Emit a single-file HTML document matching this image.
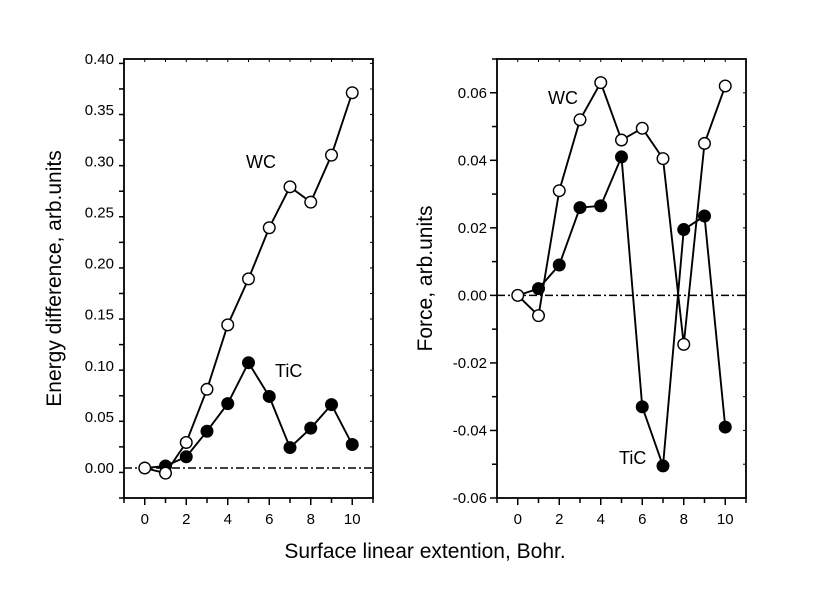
<!DOCTYPE html>
<html><head><meta charset="utf-8"><style>
body{margin:0;background:#fff;font-family:"Liberation Sans",Arial,sans-serif}
svg text{font-family:"Liberation Sans",Arial,sans-serif;fill:#000}
</style></head><body>
<svg id="c" width="829" height="586" xmlns="http://www.w3.org/2000/svg"></svg>
<script>
const xs=[0,1,2,3,4,5,6,7,8,9,10];
const leftWC=[0,-0.005,0.025,0.077,0.14,0.185,0.235,0.275,0.26,0.306,0.367];
const leftTiC=[0,0.002,0.011,0.036,0.063,0.103,0.07,0.02,0.039,0.062,0.023];
const rightWC=[0,-0.006,0.031,0.052,0.063,0.046,0.0495,0.0405,-0.0145,0.045,0.062];
const rightTiC=[0,0.002,0.009,0.026,0.0265,0.041,-0.033,-0.0505,0.0195,0.0235,-0.039];
const xTickLabels=[0,2,4,6,8,10];
const leftYTicks=[0,0.05,0.1,0.15,0.2,0.25,0.3,0.35,0.4];
const rightYTicks=[-0.06,-0.04,-0.02,0,0.02,0.04,0.06];
const NS="http://www.w3.org/2000/svg";
const svg=document.getElementById('c');
function mk(t,a,p){const e=document.createElementNS(NS,t);for(const k in a)e.setAttribute(k,a[k]);(p||svg).appendChild(e);return e;}
function panel(o){
  const g=mk('g',{});
  
  
  const X=v=>o.L+(v-(-1))/12*(o.R-o.L);
  const Y=v=>o.B-(v-o.ymin)/(o.ymax-o.ymin)*(o.B-o.T);
  const fr=mk('rect',{x:o.L,y:o.T,width:o.R-o.L,height:o.B-o.T,fill:'none',stroke:'#000','stroke-width':1.8},g);
  
  
  for(let v=-1;v<=11;v++){
    const big=v%2===0&&v>=0&&v<=10;
    mk('line',{x1:X(v),x2:X(v),y1:o.B,y2:o.B+(big?7:5),stroke:'#000','stroke-width':1.5},g);
    mk('line',{x1:X(v),x2:X(v),y1:o.T,y2:o.T+3,stroke:'#000','stroke-width':1},g);
  }
  xTickLabels.forEach(v=>{const t=mk('text',{x:X(v),y:o.B+26,'text-anchor':'middle','font-size':15},g);t.textContent=v;
    });
  const step=o.yt[1]-o.yt[0];
  for(let v=o.ymin;v<=o.ymax+1e-9;v+=step/2){
    const maj=o.yt.some(t=>Math.abs(t-v)<1e-9);
    mk('line',{x1:o.L,x2:o.L-(maj?7:5),y1:Y(v),y2:Y(v),stroke:'#000','stroke-width':1.5},g);
    mk('line',{x1:o.R,x2:o.R-3,y1:Y(v),y2:Y(v),stroke:'#000','stroke-width':1},g);
  }
  o.yt.forEach(v=>{const t=mk('text',{x:o.L-10,y:Y(v)+5,'text-anchor':'end','font-size':15},g);t.textContent=v.toFixed(2);
    });
  const z=mk('line',{x1:o.L,x2:o.R,y1:Y(0),y2:Y(0),stroke:'#000','stroke-width':1.5,'stroke-dasharray':'8,3,2,3'},g);
  
  [[o.tic,'#000','tic'],[o.wc,'#fff','wc']].forEach(([d,f,n])=>{
    const pl=mk('polyline',{points:d.map((v,i)=>X(xs[i])+','+Y(v)).join(' '),fill:'none',stroke:'#000','stroke-width':1.9},g);
    
    d.forEach((v,i)=>{if(n==='tic'&&i===0)return;const c=mk('circle',{cx:X(xs[i]),cy:Y(v),r:5.8,fill:f,stroke:'#000','stroke-width':1.4},g);
      });
  });
  o.labels.forEach(([s,x,y])=>{const t=mk('text',{x:x,y:y,'font-size':18},g);t.textContent=s;
    });
  const yt=mk('text',{transform:`translate(${o.ytx},${(o.T+o.B)/2}) rotate(-90)`,'text-anchor':'middle','font-size':21},g);
  yt.textContent=o.ytitle;
}
panel({name:'energy-panel',L:124,R:373,T:59,B:498,ymin:-0.0293,ymax:0.4,yt:leftYTicks,wc:leftWC,tic:leftTiC,
  labels:[['WC',246,168],['TiC',275,377]],ytitle:'Energy difference, arb.units',ytx:61});
panel({name:'force-panel',L:497,R:746,T:59,B:498,ymin:-0.06,ymax:0.07,yt:rightYTicks,wc:rightWC,tic:rightTiC,
  labels:[['WC',548,104],['TiC',619,464]],ytitle:'Force, arb.units',ytx:432});
const xt=mk('text',{x:425,y:558,'text-anchor':'middle','font-size':21});
xt.textContent='Surface linear extention, Bohr.';


</script>
</body></html>
